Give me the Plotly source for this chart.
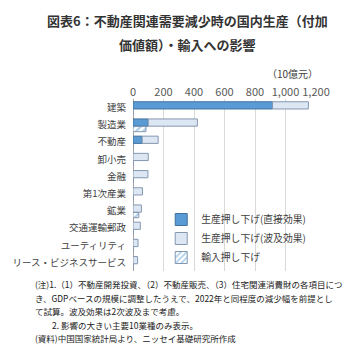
import plotly.graph_objects as go

categories = ["建築", "製造業", "不動産", "卸小売", "金融", "第1次産業", "鉱業",
              "交通運輸郵政", "ユーティリティ", "リース・ビジネスサービス"]
direct = [915, 100, 60, 0, 0, 0, 0, 0, 0, 0]
spillover = [235, 322, 105, 100, 98, 62, 55, 48, 33, 30]
imports = [2, 85, 0, 0, 0, 2, 38, 2, 0, 0]
x_ticks = [0, 200, 400, 600, 800, 1000, 1200]

FONT = "Noto Sans CJK JP"
W, H = 350, 351
ml, mr, mt, mb = 115, 34, 99, 80
PW, PH = W - ml - mr, H - mt - mb


def px_x(px):
    return (px - ml) / PW


def px_y(py):
    return (H - mb - py) / PH


fig = go.Figure()
fig.add_trace(go.Bar(
    y=categories, x=direct, orientation="h", name="生産押し下げ(直接効果)",
    marker=dict(color="#5b9bd5", line=dict(color="#41719c", width=1)),
    offset=-0.34, width=0.42,
))
fig.add_trace(go.Bar(
    y=categories, x=spillover, base=direct, orientation="h", name="生産押し下げ(波及効果)",
    marker=dict(color="#dde7f4", line=dict(color="#8497b0", width=1)),
    offset=-0.34, width=0.42,
))
fig.add_trace(go.Bar(
    y=categories, x=imports, orientation="h", name="輸入押し下げ",
    marker=dict(color="#ffffff", line=dict(color="#8497b0", width=1),
                pattern=dict(shape="/", fgcolor="#5b9bd5", bgcolor="#ffffff",
                             size=5, solidity=0.45)),
    offset=0.1, width=0.3,
))

fig.update_layout(
    width=W, height=H, margin=dict(l=ml, r=mr, t=mt, b=mb),
    paper_bgcolor="white", plot_bgcolor="white",
    barmode="overlay",
    font=dict(family=FONT, size=10, color="#404040"),
    xaxis=dict(side="top", range=[0, 1200], tickvals=x_ticks,
               tickformat=",", showgrid=True, gridcolor="#d9d9d9", gridwidth=1,
               zeroline=True, zerolinecolor="#a6a6a6", zerolinewidth=1,
               tickfont=dict(size=11, color="#595959"), ticks="", fixedrange=True),
    yaxis=dict(autorange="reversed", ticks="", ticklabelstandoff=6,
               tickfont=dict(size=9.5, color="#404040"), showgrid=False),
    legend=dict(x=px_x(146), y=px_y(205), xanchor="left", yanchor="top",
                bgcolor="rgba(0,0,0,0)", font=dict(size=9.8, color="#404040"),
                itemwidth=30, tracegroupgap=0, traceorder="normal"),
    showlegend=True,
)

title_lines = ["<b>図表6：不動産関連需要減少時の国内生産（付加</b>",
               "<b>価値額）・輸入への影響</b>"]
for i, t in enumerate(title_lines):
    fig.add_annotation(text=t, xref="paper", yref="paper",
                       x=px_x(175), y=px_y(20 + i * 24), xanchor="center", yanchor="middle",
                       showarrow=False, font=dict(family=FONT, size=13, color="#333333"))

fig.add_annotation(text="（10億元）", xref="paper", yref="paper",
                   x=px_x(320), y=px_y(73), xanchor="right", yanchor="middle",
                   showarrow=False, font=dict(size=10, color="#404040"))

notes = ["(注)1.（1）不動産開発投資、（2）不動産販売、（3）住宅関連消費財の各項目につ",
         "き、GDPベースの規模に調整したうえで、2022年と同程度の減少幅を前提とし",
         "て試算。波及効果は2次波及まで考慮。",
         "　　2. 影響の大きい主要10業種のみ表示。",
         "(資料)中国国家統計局より、ニッセイ基礎研究所作成"]
for i, line in enumerate(notes):
    fig.add_annotation(text=line, xref="paper", yref="paper",
                       x=px_x(5), y=px_y(284 + i * 13.6),
                       xanchor="left", yanchor="middle", showarrow=False,
                       font=dict(size=8.5, color="#222222"))

fig.write_html("out.html")
